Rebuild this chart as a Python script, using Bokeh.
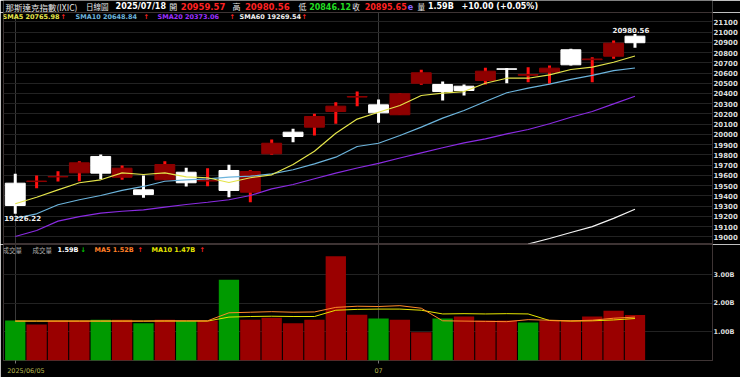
import math
from bokeh.plotting import figure
from bokeh.layouts import column
from bokeh.models import Range1d, FixedTicker, Label, ColumnDataSource
from bokeh.core.properties import value
from bokeh.embed import file_html
from bokeh.resources import INLINE

# ---------------- data ----------------
dates = ["2025/06/05", "06/06", "06/09", "06/10", "06/11", "06/12", "06/13", "06/16", "06/17", "06/18",
         "06/20", "06/23", "06/24", "06/25", "06/26", "06/27", "06/30", "07/01", "07/02", "07/03",
         "07/07", "07/08", "07/09", "07/10", "07/11", "07/14", "07/15", "07/16", "07/17", "07/18"]
opens = [19524, 19540, 19585, 19625, 19785, 19582, 19459, 19557, 19631, 19545,
         19648, 19436, 19811, 20022, 20071, 20224, 20365, 20289, 20192, 20500,
         20488, 20471, 20527, 20641, 20578, 20608, 20827, 20730, 20764, 20959.57]
highs = [19616, 19599, 19641, 19739, 19804, 19697, 19599, 19739, 19674, 19670,
         19704, 19650, 19951, 20055, 20202, 20315, 20419, 20341, 20403, 20631,
         20517, 20488, 20651, 20648, 20657, 20673, 20836, 20754, 20917, 20980.56]
lows = [19226.22, 19475, 19540, 19543, 19563, 19557, 19381, 19557, 19492, 19495,
        19387, 19338, 19801, 19924, 19990, 20104, 20276, 20114, 20192, 20485,
        20331, 20380, 20488, 20500, 20510, 20495, 20673, 20510, 20739, 20846.12]
closes = [19306, 19545, 19590, 19723, 19622, 19670, 19413, 19706, 19528, 19550,
          19453, 19638, 19914, 19980, 20175, 20276, 20370, 20211, 20397, 20602,
          20419, 20429, 20618, 20636, 20585, 20647, 20680, 20737, 20891, 20895.65]
sma5 = [19323, 19387, 19459, 19528, 19557, 19625, 19609, 19625, 19586, 19577,
        19531, 19577, 19606, 19706, 19836, 20012, 20150, 20217, 20283, 20380,
        20403, 20419, 20500, 20549, 20549, 20582, 20634, 20657, 20705, 20765.98]
sma10 = [19180, 19225, 19313, 19362, 19404, 19453, 19492, 19543, 19557, 19567,
         19583, 19592, 19615, 19655, 19713, 19778, 19882, 19914, 19990, 20071,
         20159, 20234, 20322, 20407, 20452, 20491, 20537, 20576, 20624, 20648.84]
sma20 = [19003, 19062, 19153, 19198, 19231, 19250, 19264, 19290, 19316, 19338,
         19362, 19404, 19469, 19511, 19567, 19622, 19672, 19718, 19770, 19820,
         19870, 19918, 19957, 20006, 20048, 20104, 20168, 20224, 20299, 20373.06]
nan = float("nan")
sma60 = [nan] * 24 + [18930, 18984, 19042, 19100, 19180, 19269.54]
volume = [1.40, 1.26, 1.40, 1.40, 1.43, 1.43, 1.30, 1.43, 1.37, 1.40,
          2.83, 1.43, 1.50, 1.30, 1.43, 3.65, 1.60, 1.47, 1.43, 0.99,
          1.47, 1.54, 1.40, 1.40, 1.33, 1.40, 1.40, 1.54, 1.74, 1.59]
vol_ma5 = [1.38, 1.38, 1.38, 1.38, 1.38, 1.38, 1.38, 1.39, 1.39, 1.39,
           1.67, 1.69, 1.71, 1.69, 1.70, 1.86, 1.90, 1.89, 1.92, 1.83,
           1.39, 1.38, 1.37, 1.36, 1.43, 1.41, 1.39, 1.41, 1.48, 1.52]
vol_ma10 = [1.38, 1.38, 1.38, 1.38, 1.38, 1.38, 1.38, 1.38, 1.38, 1.38,
            1.52, 1.54, 1.55, 1.54, 1.54, 1.76, 1.79, 1.80, 1.80, 1.76,
            1.63, 1.64, 1.63, 1.64, 1.63, 1.40, 1.38, 1.39, 1.42, 1.47]
price_ticks = list(range(19000, 21101, 100))
vol_ticks = [1, 2, 3]
vol_tick_labels = {1: "1.00B", 2: "2.00B", 3: "3.00B"}
month_starts = [0, 17]
month_label_pos = [0.5, 17]
month_labels = {0.5: "2025/06/05", 17: "07"}

# ---------------- geometry ----------------
W = 740
HH = 12                      # header strip
FL, FR, FT, FB = 3, 712, 12, 243
H1 = FB + 1 - HH
VT, VB = 244, 363
H2 = 377 - VT
X0 = -0.55
X1 = X0 + (FR - FL) / 21.37
P_TOP = 21100 + (21.3 - FT) / 0.1024
P_BOT = 21100 - (FB - 21.3) / 0.1024
V_TOP = (VB - VT) / 29.3


def dx(X):
    return X0 + (X - FL) / (FR - FL) * (X1 - X0)


def py(Y):
    return P_TOP - (Y - FT) / (FB - FT) * (P_TOP - P_BOT)


def vy(Y):
    return V_TOP - (Y - VT) / (VB - VT) * V_TOP


idx = list(range(len(dates)))
up = [c >= o for o, c in zip(opens, closes)]
prev = [opens[0]] + closes[:-1]
vol_up = [c >= p for c, p in zip(closes, prev)]

BODY_UP = "#8e0000"
WICK_UP = "#ff1010"
WHITE = "#ffffff"
GRID = "#222222"
OUTLINE = "#3e3434"
FONT = "DejaVu Sans"
CJK = "Noto Sans CJK TC"
RED = "#ff2222"

# ---------------- header strip ----------------
hf = figure(width=W, height=HH, output_backend="svg", toolbar_location=None,
            x_range=Range1d(0, W), y_range=Range1d(HH, 0),
            x_axis_location=None, y_axis_location=None,
            min_border_left=0, min_border_right=0, min_border_top=0, min_border_bottom=0)
hf.background_fill_color = "black"
hf.border_fill_color = "black"
hf.outline_line_color = None
hf.grid.visible = False

hdr = [
    ("那斯達克指數(IXIC)", 2, "#e8e8e8", "8.5px", CJK, False),
    ("日線圖", 86, "#e8e8e8", "7.5px", CJK, False),
    ("2025/07/18", 117, "#ffffff", "8px", FONT, True),
    ("開", 173, "#e8e8e8", "8px", CJK, False),
    (f"{opens[-1]:.2f}", 185, RED, "8.5px", FONT, True),
    ("高", 239, "#e8e8e8", "8px", CJK, False),
    (f"{highs[-1]:.2f}", 252, RED, "8.5px", FONT, True),
    ("低", 308, "#e8e8e8", "8px", CJK, False),
    (f"{lows[-1]:.2f}", 319, "#22dd22", "8px", FONT, True),
    ("收", 364, "#e8e8e8", "7.5px", CJK, False),
    (f"{closes[-1]:.2f}", 377, RED, "8px", FONT, True),
    ("e", 422, "#8866ff", "8px", FONT, True),
    ("量", 432, "#e8e8e8", "7.5px", CJK, False),
    (f"{volume[-1]:.2f}B", 443, "#ffffff", "8px", FONT, True),
    ("+10.00 (+0.05%)", 478, "#ffffff", "8px", FONT, True),
]
for t, X, col, sz, f, b in hdr:
    hf.add_layout(Label(x=X, y=6, text=t, text_color=col, text_font=f, text_font_size=sz,
                        text_font_style="bold" if b else "normal",
                        text_baseline="middle", text_align="left"))

# ---------------- price panel ----------------
p1 = figure(width=W, height=H1, output_backend="svg", toolbar_location=None,
            x_range=Range1d(X0, X1), y_range=Range1d(P_BOT, P_TOP),
            x_axis_location=None, y_axis_location="right",
            min_border_left=FL, min_border_right=W - FR, min_border_top=0,
            min_border_bottom=1)
p1.background_fill_color = "black"
p1.border_fill_color = "black"
p1.outline_line_color = OUTLINE
ya = p1.yaxis[0]
ya.ticker = FixedTicker(ticks=price_ticks)
ya.axis_line_color = None
ya.major_tick_line_color = None
ya.minor_tick_line_color = None
ya.major_tick_out = 0
ya.major_tick_in = 0
ya.minor_tick_out = 0
ya.major_label_standoff = 1
ya.major_label_text_color = "#dcdcdc"
ya.major_label_text_font = FONT
ya.major_label_text_font_style = "bold"
ya.major_label_text_font_size = "7px"
p1.ygrid.ticker = FixedTicker(ticks=price_ticks)
p1.ygrid.grid_line_color = GRID
p1.xgrid.ticker = FixedTicker(ticks=month_starts)
p1.xgrid.grid_line_color = "#3a3a3a"

src = ColumnDataSource(dict(
    x=idx, o=opens, h=highs, l=lows, c=closes,
    top=[max(o, c) for o, c in zip(opens, closes)],
    bot=[min(o, c) for o, c in zip(opens, closes)],
    body=[BODY_UP if u else WHITE for u in up],
    wick=[WICK_UP if u else WHITE for u in up],
))
p1.segment(x0="x", y0="l", x1="x", y1="h", line_color="wick", line_width=3, source=src)
p1.vbar(x="x", width=0.93, top="top", bottom="bot", fill_color="body",
        line_color="body", line_width=1, source=src)

p1.line(idx, sma60, line_color="#f4f4f4", line_width=1.2)
p1.line(idx, sma20, line_color="#8a2be2", line_width=1.2)
p1.line(idx, sma10, line_color="#6cb4dc", line_width=1.2)
p1.line(idx, sma5, line_color="#e4e44a", line_width=1.2)

p1.text(x=[0], y=[lows[0]], text=[f"{lows[0]:.2f}"], text_align="left", text_baseline="top",
        x_offset=-11, y_offset=1, text_color="#f0f0f0", text_font=value(FONT),
        text_font_style="bold", text_font_size="7px")
p1.text(x=[idx[-1]], y=[highs[-1]], text=[f"{highs[-1]:.2f}"], text_align="center",
        text_baseline="bottom", x_offset=-4, y_offset=-1, text_color="#f0f0f0",
        text_font=value(FONT), text_font_style="bold", text_font_size="7px")


def add_label(fig, text, X, y, color, size="7px", font=FONT, bold=True):
    fig.add_layout(Label(x=dx(X), y=y, text=text, text_color=color, text_font=font,
                         text_font_size=size, text_font_style="bold" if bold else "normal",
                         text_baseline="middle", text_align="left"))


y2 = py(16.5)
sma_hdr = [
    (f"SMA5 {sma5[-1]:.2f}", 2, "#e4e44a", 60),
    (f"SMA10 {sma10[-1]:.2f}", 75, "#6cb4dc", 143),
    (f"SMA20 {sma20[-1]:.2f}", 157, "#9b30ff", 229),
    (f"SMA60 {sma60[-1]:.2f}", 239, "#f0f0f0", 301),
]
for t, X, col, ax in sma_hdr:
    add_label(p1, t, X, y2, col, "6.5px")
    add_label(p1, "↑", ax, y2, RED, "6.5px")

# ---------------- volume panel ----------------
p2 = figure(width=W, height=H2, output_backend="svg", toolbar_location=None,
            x_range=p1.x_range, y_range=Range1d(0, V_TOP),
            y_axis_location="right",
            min_border_left=FL, min_border_right=W - FR, min_border_top=0,
            min_border_bottom=H2 - (VB - VT))
p2.background_fill_color = "black"
p2.border_fill_color = "black"
p2.outline_line_color = OUTLINE
va = p2.yaxis[0]
va.ticker = FixedTicker(ticks=vol_ticks)
va.major_label_overrides = vol_tick_labels
va.axis_line_color = None
va.major_tick_line_color = None
va.minor_tick_line_color = None
va.major_tick_out = 0
va.major_tick_in = 0
va.minor_tick_out = 0
va.major_label_standoff = 1
va.major_label_text_color = "#dcdcdc"
va.major_label_text_font = FONT
va.major_label_text_font_style = "bold"
va.major_label_text_font_size = "6.5px"
p2.ygrid.ticker = FixedTicker(ticks=vol_ticks)
p2.ygrid.grid_line_color = GRID
p2.xgrid.ticker = FixedTicker(ticks=month_starts)
p2.xgrid.grid_line_color = "#3a3a3a"
xa = p2.xaxis[0]
xa.ticker = FixedTicker(ticks=month_label_pos, minor_ticks=month_starts)
xa.major_label_overrides = month_labels
xa.axis_line_color = None
xa.major_tick_line_color = None
xa.major_tick_out = 0
xa.major_tick_in = 0
xa.minor_tick_line_color = "#777777"
xa.minor_tick_out = 3
xa.minor_tick_in = 0
xa.major_label_standoff = 3
xa.major_label_text_color = "#b4b44c"
xa.major_label_text_font = FONT
xa.major_label_text_font_size = "6.5px"

vsrc = ColumnDataSource(dict(x=idx, v=volume,
                             col=["#9a0000" if u else "#009a00" for u in vol_up]))
p2.vbar(x="x", top="v", bottom=0, width=0.95, fill_color="col", line_color=None, source=vsrc)
p2.line(idx, vol_ma10, line_color="#e6e600", line_width=1)
p2.line(idx, vol_ma5, line_color="#ff8a2a", line_width=1)

yv = vy(250)
add_label(p2, "成交量", 2, yv, "#b0b0b0", "6.5px", CJK, False)
add_label(p2, "成交量", 32, yv, "#b0b0b0", "6.5px", CJK, False)
add_label(p2, f"{volume[-1]:.2f}B", 57, yv, "#ffffff", "6.5px")
add_label(p2, "↓", 80, yv, "#00cc00", "6.5px")
add_label(p2, f"MA5 {vol_ma5[-1]:.2f}B", 94, yv, "#ff7f27", "6.5px")
add_label(p2, "↑", 137, yv, RED, "6.5px")
add_label(p2, f"MA10 {vol_ma10[-1]:.2f}B", 151, yv, "#e6e600", "6.5px")
add_label(p2, "↑", 199, yv, RED, "6.5px")

layout = column(hf, p1, p2, spacing=0)
open("out.html", "w").write(file_html(layout, INLINE))
